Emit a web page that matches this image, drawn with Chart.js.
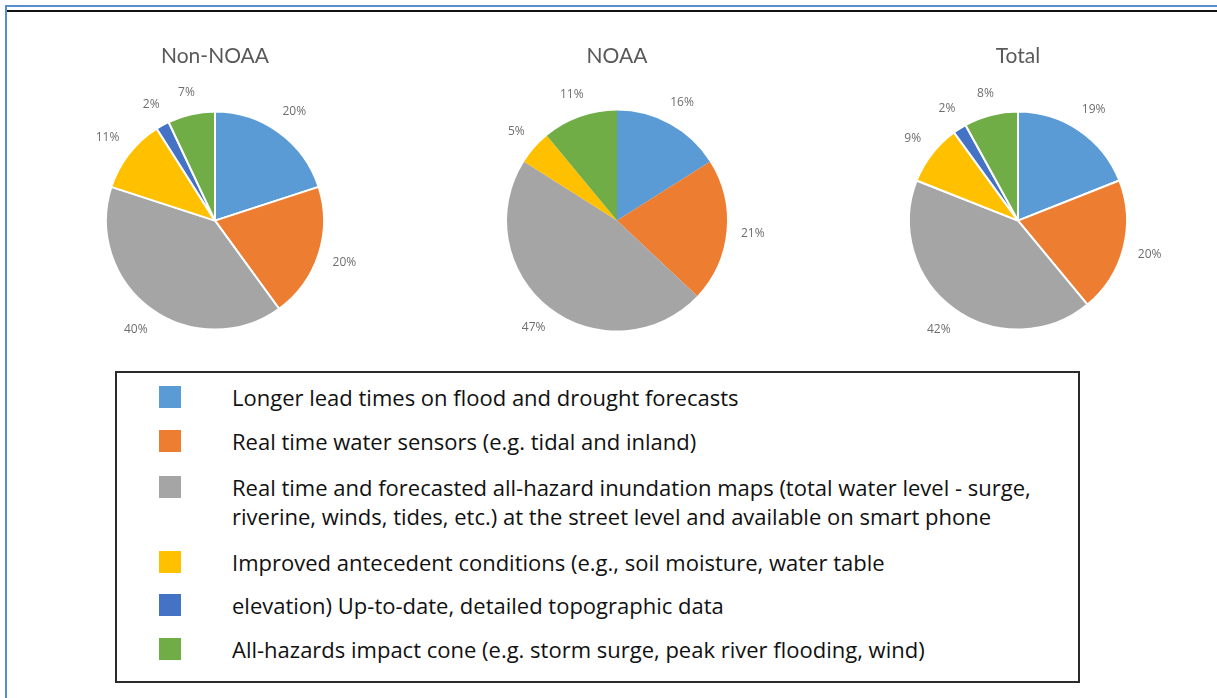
<!DOCTYPE html>
<html>
<head>
<meta charset="utf-8">
<script src="https://cdn.jsdelivr.net/npm/chart.js@4/dist/chart.umd.min.js"></script>
<style>
  html, body { margin: 0; padding: 0; background: #fff; overflow: hidden; }
  body { width: 1217px; height: 698px; position: relative; font-family: "Open Sans", Lato, sans-serif; }
  .frame-top { position: absolute; left: 5px; top: 5px; width: 1212px; height: 2px; background: #5b8bd0; }
  .frame-black { position: absolute; left: 7px; top: 10px; width: 1210px; height: 2px; background: #111; }
  .frame-left { position: absolute; left: 5px; top: 5px; width: 2px; height: 693px; background: #5b8bd0; }
  .pie { position: absolute; top: 21px; width: 400px; height: 340px; }
  .legend-box { position: absolute; left: 115px; top: 371px; width: 961px; height: 308px; border: 2px solid #2b2b2b; }
  .swatch { position: absolute; left: 159px; width: 22px; height: 22px; }
  .item { position: absolute; left: 232px; line-height: 29px; color: #111; white-space: nowrap; }
</style>
</head>
<body>
<div class="frame-top"></div>
<div class="frame-black"></div>
<div class="frame-left"></div>

<canvas id="pieNonNoaa" class="pie" width="400" height="340" style="left:15px"></canvas>
<canvas id="pieNoaa" class="pie" width="400" height="340" style="left:417px"></canvas>
<canvas id="pieTotal" class="pie" width="400" height="340" style="left:818px"></canvas>

<div class="legend-box"></div>
<div id="legend"></div>

<script>
// categories (legend order = slice order, clockwise from 12 o'clock)
const categories = [
    'Longer lead times on flood and drought forecasts',
    'Real time water sensors (e.g. tidal and inland)',
    ['Real time and forecasted all-hazard inundation maps (total water level - surge,',
     'riverine, winds, tides, etc.) at the street level and available on smart phone'],
    'Improved antecedent conditions (e.g., soil moisture, water table',
    'elevation) Up-to-date, detailed topographic data',
    'All-hazards impact cone (e.g. storm surge, peak river flooding, wind)'
];

// percent values per chart
const nonNoaaValues = [20, 20, 40, 11, 2, 7];
const noaaValues = [16, 21, 47, 5, 0, 11];
const totalValues = [19, 20, 42, 9, 2, 8];

const chartTitles = ['Non-NOAA', 'NOAA', 'Total'];

const sliceColors = ['#5b9bd5', '#ed7d31', '#a5a5a5', '#ffc000', '#4472c4', '#70ad47'];

// percent labels just outside each slice
const pctLabels = {
    id: 'pctLabels',
    afterDatasetsDraw(chart) {
        const ctx = chart.ctx;
        const meta = chart.getDatasetMeta(0);
        const values = chart.data.datasets[0].data;
        ctx.save();
        ctx.font = '12px "Open Sans", sans-serif';
        ctx.fillStyle = '#6e6e6e';
        ctx.textAlign = 'center';
        ctx.textBaseline = 'middle';
        meta.data.forEach((arc, i) => {
            if (!values[i]) return;
            const p = arc.getProps(['x', 'y', 'startAngle', 'endAngle', 'outerRadius'], true);
            const mid = (p.startAngle + p.endAngle) / 2;
            const text = values[i] + '%';
            const w = ctx.measureText(text).width;
            const dx = Math.cos(mid), dy = Math.sin(mid);
            const d = p.outerRadius + 14 + Math.abs(dx) * w / 2 + Math.abs(dy) * 6;
            ctx.fillText(text, p.x + dx * d, p.y + dy * d);
        });
        ctx.restore();
    }
};

function createPie(id, title, values, border) {
    const ctx = document.getElementById(id);
    new Chart(ctx, {
        type: 'pie',
        data: {
            labels: categories,
            datasets: [{
                data: values,
                backgroundColor: sliceColors,
                borderColor: '#ffffff',
                borderWidth: border
            }]
        },
        options: {
            responsive: false,
            animation: false,
            devicePixelRatio: 1,
            layout: {
                padding: { top: 23, bottom: 30, left: 90, right: 90 }
            },
            plugins: {
                legend: { display: false },
                tooltip: { enabled: false },
                title: {
                    display: true,
                    text: title,
                    color: '#595959',
                    font: { family: 'Lato', size: 21, weight: 'normal', lineHeight: 1.2 },
                    padding: { top: 0, bottom: 41 }
                }
            }
        },
        plugins: [pctLabels]
    });
}

function buildLegend() {
    const holder = document.getElementById('legend');
    const rowY = [397, 441, 487, 562, 605, 649];

    // fit the legend font so the longest line spans like the original
    const mctx = document.createElement('canvas').getContext('2d');
    mctx.font = '20px "Open Sans"';
    const longest = Math.max(...categories.flat().map(t => mctx.measureText(t).width));
    const size = Math.min(22, 20 * 813 / longest);

    categories.forEach((label, i) => {
        const sw = document.createElement('div');
        sw.className = 'swatch';
        sw.style.top = (rowY[i] - 11) + 'px';
        sw.style.background = sliceColors[i];
        holder.appendChild(sw);

        const item = document.createElement('div');
        item.className = 'item';
        item.style.fontSize = size + 'px';
        item.style.top = (rowY[i] - 14.5) + 'px';
        const lines = Array.isArray(label) ? label : [label];
        lines.forEach((line, k) => {
            if (k) item.appendChild(document.createElement('br'));
            item.appendChild(document.createTextNode(line));
        });
        holder.appendChild(item);
    });
}

createPie('pieNonNoaa', chartTitles[0], nonNoaaValues, 2);
createPie('pieNoaa', chartTitles[1], noaaValues, 0);
createPie('pieTotal', chartTitles[2], totalValues, 2);
buildLegend();
</script>
</body>
</html>
